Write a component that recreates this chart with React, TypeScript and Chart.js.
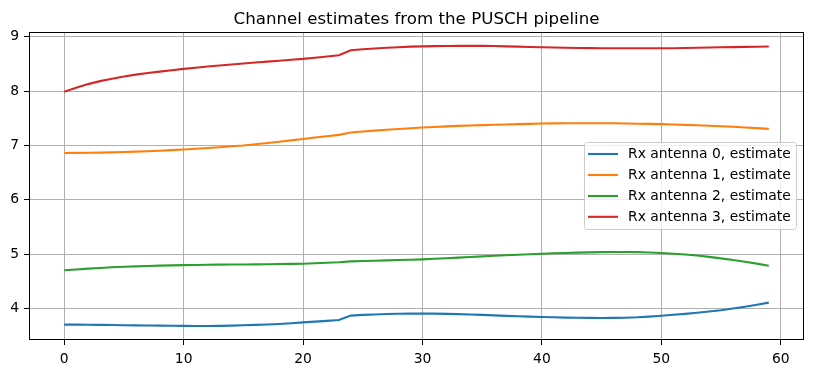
import React, { useEffect, useRef } from "react";
import { Chart, registerables } from "chart.js";

Chart.register(...registerables);

const chartTitle = "Channel estimates from the PUSCH pipeline";

const subcarrierIndex = [
  0, 1, 2, 3, 4, 5, 6, 7, 8, 9, 10, 11, 12, 13, 14, 15, 16, 17, 18, 19,
  20, 21, 22, 23, 24, 25, 26, 27, 28, 29, 30, 31, 32, 33, 34, 35, 36, 37, 38, 39,
  40, 41, 42, 43, 44, 45, 46, 47, 48, 49, 50, 51, 52, 53, 54, 55, 56, 57, 58, 59,
];

const seriesNames = [
  "Rx antenna 0, estimate",
  "Rx antenna 1, estimate",
  "Rx antenna 2, estimate",
  "Rx antenna 3, estimate",
];

const seriesColors = ["#1f77b4", "#ff7f0e", "#2ca02c", "#d62728"];

const rx0 = [
  3.700, 3.699, 3.697, 3.695, 3.692, 3.689, 3.686, 3.683, 3.680, 3.678,
  3.676, 3.675, 3.675, 3.677, 3.681, 3.687, 3.694, 3.702, 3.712, 3.725,
  3.740, 3.754, 3.769, 3.785, 3.865, 3.878, 3.887, 3.894, 3.899, 3.901,
  3.902, 3.901, 3.898, 3.893, 3.886, 3.878, 3.869, 3.861, 3.853, 3.846,
  3.840, 3.834, 3.829, 3.825, 3.823, 3.822, 3.823, 3.827, 3.834, 3.847,
  3.863, 3.880, 3.898, 3.918, 3.940, 3.963, 3.995, 4.029, 4.065, 4.104,
];

const rx1 = [
  6.862, 6.863, 6.865, 6.868, 6.873, 6.879, 6.886, 6.894, 6.903, 6.914,
  6.926, 6.939, 6.953, 6.968, 6.984, 7.000, 7.021, 7.044, 7.068, 7.094,
  7.120, 7.145, 7.170, 7.195, 7.238, 7.256, 7.273, 7.289, 7.304, 7.318,
  7.330, 7.341, 7.351, 7.360, 7.367, 7.374, 7.381, 7.387, 7.393, 7.398,
  7.403, 7.406, 7.408, 7.410, 7.410, 7.410, 7.408, 7.405, 7.401, 7.397,
  7.392, 7.386, 7.379, 7.372, 7.364, 7.355, 7.344, 7.332, 7.319, 7.306,
];

const rx2 = [
  4.700, 4.716, 4.730, 4.743, 4.755, 4.765, 4.773, 4.780, 4.786, 4.791,
  4.796, 4.799, 4.802, 4.804, 4.806, 4.808, 4.810, 4.812, 4.815, 4.818,
  4.822, 4.830, 4.838, 4.847, 4.865, 4.870, 4.876, 4.882, 4.889, 4.895,
  4.902, 4.912, 4.923, 4.934, 4.946, 4.957, 4.967, 4.977, 4.987, 4.997,
  5.006, 5.013, 5.020, 5.026, 5.031, 5.035, 5.037, 5.037, 5.034, 5.027,
  5.018, 5.005, 4.990, 4.972, 4.948, 4.920, 4.890, 4.858, 4.823, 4.785,
];

const rx3 = [
  7.990, 8.065, 8.130, 8.185, 8.230, 8.270, 8.305, 8.335, 8.360, 8.385,
  8.410, 8.432, 8.453, 8.473, 8.492, 8.510, 8.527, 8.544, 8.561, 8.578,
  8.595, 8.617, 8.640, 8.663, 8.755, 8.772, 8.786, 8.799, 8.810, 8.820,
  8.826, 8.830, 8.833, 8.834, 8.834, 8.834, 8.831, 8.826, 8.821, 8.815,
  8.810, 8.805, 8.800, 8.796, 8.793, 8.791, 8.790, 8.790, 8.790, 8.790,
  8.790, 8.792, 8.795, 8.799, 8.804, 8.808, 8.812, 8.816, 8.819, 8.822,
];

const seriesValues = [rx0, rx1, rx2, rx3];

const xTicks = [0, 10, 20, 30, 40, 50, 60];
const xTickLabels = ["0", "10", "20", "30", "40", "50", "60"];
const yTicks = [4, 5, 6, 7, 8, 9];
const yTickLabels = ["4", "5", "6", "7", "8", "9"];

const FONT = '"DejaVu Sans", sans-serif';

const framePlugin = {
  id: "frame",
  afterDraw(chart: any) {
    const { ctx, chartArea } = chart;
    ctx.save();
    ctx.strokeStyle = "#000";
    ctx.lineWidth = 1;
    ctx.strokeRect(
      Math.round(chartArea.left) + 0.5,
      Math.round(chartArea.top) + 0.5,
      Math.round(chartArea.right - chartArea.left) - 1,
      Math.round(chartArea.bottom - chartArea.top) - 1
    );
    ctx.fillStyle = "#000";
    ctx.font = `16.67px ${FONT}`;
    ctx.textAlign = "center";
    ctx.textBaseline = "alphabetic";
    ctx.fillText(chartTitle, (chartArea.left + chartArea.right) / 2, 24);

    const bx = 584.5, by = 142.5, bw = 212, bh = 87, r = 3;
    ctx.beginPath();
    ctx.moveTo(bx + r, by);
    ctx.lineTo(bx + bw - r, by);
    ctx.quadraticCurveTo(bx + bw, by, bx + bw, by + r);
    ctx.lineTo(bx + bw, by + bh - r);
    ctx.quadraticCurveTo(bx + bw, by + bh, bx + bw - r, by + bh);
    ctx.lineTo(bx + r, by + bh);
    ctx.quadraticCurveTo(bx, by + bh, bx, by + bh - r);
    ctx.lineTo(bx, by + r);
    ctx.quadraticCurveTo(bx, by, bx + r, by);
    ctx.closePath();
    ctx.fillStyle = "rgba(255,255,255,0.8)";
    ctx.fill();
    ctx.strokeStyle = "#cccccc";
    ctx.lineWidth = 1;
    ctx.stroke();

    ctx.font = `13.89px ${FONT}`;
    ctx.textAlign = "left";
    ctx.textBaseline = "middle";
    const rowY = [154, 175, 196, 216.8];
    seriesNames.forEach((name, i) => {
      ctx.strokeStyle = seriesColors[i];
      ctx.lineWidth = 2.1;
      ctx.beginPath();
      ctx.moveTo(588, rowY[i]);
      ctx.lineTo(618, rowY[i]);
      ctx.stroke();
      ctx.fillStyle = "#000";
      ctx.fillText(name, 628, rowY[i] + 0.5);
    });
    ctx.restore();
  },
};

export default function App() {
  const canvasRef = useRef<HTMLCanvasElement>(null);

  useEffect(() => {
    if (!canvasRef.current) return;
    const datasets = seriesNames.map((name, i) => ({
      label: name,
      data: subcarrierIndex.map((x, j) => ({ x, y: seriesValues[i][j] })),
      borderColor: seriesColors[i],
      backgroundColor: seriesColors[i],
      borderWidth: 2.1,
      pointRadius: 0,
      tension: 0,
      fill: false,
    }));

    const chart = new Chart(canvasRef.current, {
      type: "line",
      data: { datasets },
      plugins: [framePlugin],
      options: {
        animation: false,
        responsive: false,
        maintainAspectRatio: false,
        layout: { padding: { top: 32, left: 0, right: 9, bottom: 0 } },
        plugins: {
          legend: { display: false },
          title: { display: false },
          tooltip: { enabled: false },
        },
        scales: {
          x: {
            type: "linear",
            min: -2.95,
            max: 61.95,
            afterBuildTicks: (scale: any) => {
              scale.ticks = xTicks.map((v) => ({ value: v }));
            },
            afterFit: (scale: any) => {
              scale.height = 34;
            },
            ticks: {
              color: "#000",
              font: { family: FONT, size: 13.89 },
              padding: 6,
              maxRotation: 0,
              autoSkip: false,
              callback: (v: any) => {
                const k = xTicks.indexOf(Number(v));
                return k >= 0 ? xTickLabels[k] : "";
              },
            },
            grid: {
              color: "#b0b0b0",
              lineWidth: 1,
              tickColor: "#000",
              tickLength: 5,
            },
            border: { display: false },
          },
          y: {
            type: "linear",
            min: 3.416,
            max: 9.09,
            afterBuildTicks: (scale: any) => {
              scale.ticks = yTicks.map((v) => ({ value: v }));
            },
            afterFit: (scale: any) => {
              scale.width = 29;
            },
            ticks: {
              color: "#000",
              font: { family: FONT, size: 13.89 },
              padding: 5,
              autoSkip: false,
              callback: (v: any) => {
                const k = yTicks.indexOf(Number(v));
                return k >= 0 ? yTickLabels[k] : "";
              },
            },
            grid: {
              color: "#b0b0b0",
              lineWidth: 1,
              tickColor: "#000",
              tickLength: 5,
            },
            border: { display: false },
          },
        },
      },
    });
    return () => chart.destroy();
  }, []);

  return (
    <div style={{ position: "fixed", left: 0, top: 0, width: 813, height: 374, background: "#fff" }}>
      <canvas ref={canvasRef} width={813} height={374} style={{ width: 813, height: 374 }} />
    </div>
  );
}
